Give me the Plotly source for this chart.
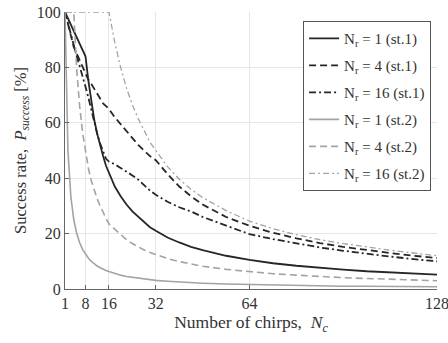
import plotly.graph_objects as go

x_chirps = [1, 2, 3, 4, 5, 6, 7, 8, 9, 10, 11, 12, 13, 14, 15, 16, 18, 20, 22, 24, 26, 28, 30, 32,
            36, 40, 44, 48, 56, 64, 72, 80, 88, 96, 104, 112, 120, 128]

nr1_st1 = [100, 97.7, 95.4, 93.1, 90.8, 88.5, 86.2, 84, 75, 67, 61, 56, 51.5, 48, 44.5, 42, 37, 33.5,
           30.5, 28, 26, 24, 22.3, 21, 18.6, 16.8, 15.2, 14, 12, 10.5, 9.3, 8.4, 7.6, 7.0, 6.4, 6.0, 5.6, 5.2]
nr4_st1 = [100, 95.8, 91.5, 87.3, 85, 82.5, 80, 77.5, 75.5, 74, 72.2, 70.5, 68.7, 67, 66, 65, 62, 59.5,
           57, 54.5, 52, 50, 48, 46.5, 41.5, 37, 33.5, 30.5, 26, 22.8, 20.3, 18.3, 16.6, 15.2, 14, 13, 12, 11.2]
nr16_st1 = [100, 95.8, 91.5, 87.3, 84, 80.5, 77, 73, 69, 64.5, 60, 56, 52.5, 49.5, 47, 46, 45, 43.7,
            42.5, 41, 39.5, 37.5, 35.5, 34, 31.5, 29.5, 28, 26, 22.8, 19.8, 18, 16.5, 15, 13.8, 12.7, 11.7, 10.8, 10]
nr1_st2 = [100, 50, 33.3, 25, 20, 16.7, 14.3, 12.5, 11.1, 10, 9.1, 8.3, 7.7, 7.1, 6.7, 6.3, 5.6, 5.0,
           4.5, 4.2, 3.8, 3.6, 3.3, 3.1, 2.8, 2.5, 2.3, 2.1, 1.8, 1.6, 1.4, 1.3, 1.1, 1.0, 1.0, 0.9, 0.8, 0.8]
nr4_st2 = [100, 100, 100, 100, 79, 66, 56.5, 49.5, 43.5, 39, 35.5, 32.5, 30, 27.5, 25.5, 23.5, 21.5, 19.5,
           17.8, 16.4, 15.2, 14.1, 13.2, 12.4, 11, 9.9, 9.0, 8.2, 7.1, 6.2, 5.5, 5.0, 4.5, 4.1, 3.8, 3.5, 3.2, 3.0]
nr16_st2 = [100, 100, 100, 100, 100, 100, 100, 100, 100, 100, 100, 100, 100, 100, 100, 100, 89, 80,
            72.5, 66.5, 61.5, 57, 53, 50, 44.2, 39.6, 36, 33, 28.3, 24.5, 21.8, 19.6, 17.8, 16.4, 15.1, 14, 13, 12]

series_names = ["N<sub>r</sub> = 1 (st.1)", "N<sub>r</sub> = 4 (st.1)", "N<sub>r</sub> = 16 (st.1)",
                "N<sub>r</sub> = 1 (st.2)", "N<sub>r</sub> = 4 (st.2)", "N<sub>r</sub> = 16 (st.2)"]
x_ticks = [1, 8, 16, 32, 64, 128]
y_ticks = [0, 20, 40, 60, 80, 100]

black = "#262626"
gray = "#a3a3a3"
styles = [
    (black, "solid", 1.8),
    (black, "7px,4px", 1.8),
    (black, "7px,3px,2px,3px", 1.8),
    (gray, "solid", 1.6),
    (gray, "7px,4px", 1.6),
    (gray, "6px,3px,2px,3px", 1.3),
]
data = [nr1_st1, nr4_st1, nr16_st1, nr1_st2, nr4_st2, nr16_st2]

fig = go.Figure()
for i, (name, ys, (c, d, w)) in enumerate(zip(series_names, data, styles)):
    fig.add_trace(go.Scatter(x=x_chirps, y=ys, mode="lines", name=name, legendgroup=str(i),
                             line=dict(color=c, dash=d, width=w)))

font_family = "Liberation Serif"
fig.update_layout(
    width=448, height=343,
    margin=dict(l=65, r=11, t=11.5, b=53.5, autoexpand=False),
    paper_bgcolor="white", plot_bgcolor="white",
    font=dict(family=font_family, size=16, color="#333"),
    showlegend=True,
    legend=dict(x=0.64, y=0.967, xanchor="left", yanchor="top",
                bgcolor="white", bordercolor="#555", borderwidth=1,
                font=dict(family=font_family, size=15, color="#333"),
                traceorder="grouped", tracegroupgap=4.5, itemwidth=30),
    xaxis=dict(range=[1, 128], tickvals=x_ticks, ticktext=[str(v) for v in x_ticks],
               automargin=False, ticklabeloverflow="allow",
               showgrid=True, gridcolor="#e6e6e6", gridwidth=1,
               showline=True, linecolor="#666", linewidth=1,
               ticks="inside", ticklen=4, tickcolor="#666", zeroline=False,
               tickfont=dict(family=font_family, size=16, color="#333"),
               title=dict(text="Number of chirps,  <i>N</i><sub><i>c</i></sub>",
                          font=dict(family=font_family, size=17.5, color="#333"), standoff=4)),
    yaxis=dict(range=[0, 100], tickvals=y_ticks,
               automargin=False, ticklabeloverflow="allow",
               showgrid=True, gridcolor="#e6e6e6", gridwidth=1,
               showline=True, linecolor="#666", linewidth=1,
               ticks="inside", ticklen=4, tickcolor="#666", zeroline=False,
               tickfont=dict(family=font_family, size=16, color="#333"),
               title=dict(text="Success rate,  <i>P</i><sub><i>success</i></sub> [%]",
                          font=dict(family=font_family, size=16.5, color="#333"), standoff=6)),
)

fig.write_html("out.html", config={"displayModeBar": False},
               post_script="document.body.style.margin='0';document.body.style.overflow='hidden';")
